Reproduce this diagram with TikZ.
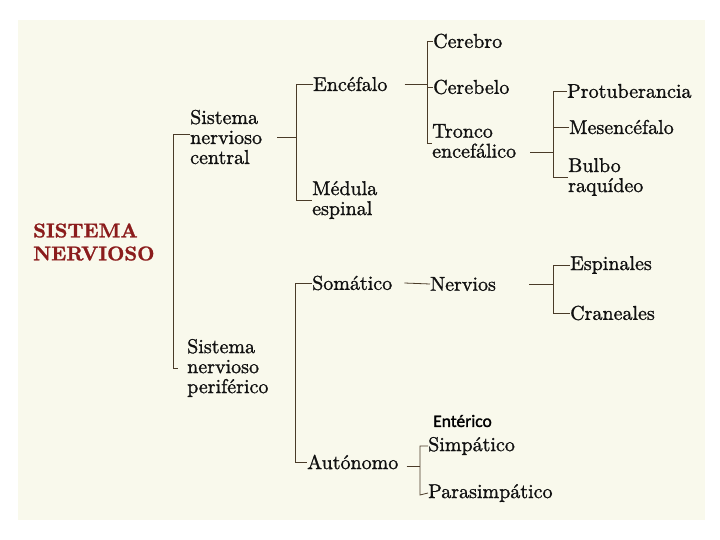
\documentclass[tikz,border=0pt]{standalone}
\usepackage{fontspec}
\setmainfont{lmroman10-regular.otf}[BoldFont=lmroman10-bold.otf,FakeBold=1.2]
\newfontfamily\entfont{Carlito}[FakeBold=1.6]
\definecolor{paper}{HTML}{F9F9EC}
\definecolor{ink}{HTML}{111111}
\definecolor{rule}{HTML}{4A3B28}
\definecolor{titlered}{HTML}{8B1C1C}
\tikzset{
  lbl/.style={anchor=west, inner sep=0pt, align=left, text=ink,
    font=\fontsize{20}{20}\selectfont},
  ttl/.style={anchor=west, inner sep=0pt, align=left, text=titlered,
    font=\fontsize{20}{23}\selectfont\bfseries},
  ent/.style={anchor=west, inner sep=0pt, text=black,
    font=\fontsize{17.5}{20}\selectfont\entfont},
  ln/.style={draw=rule, line width=0.8pt}
}
\begin{document}
\begin{tikzpicture}[x=1pt,y=-1pt]
\useasboundingbox (0,0) rectangle (720,540);
\fill[white] (0,0) rectangle (720,540);
\fill[paper] (18,20) rectangle (705,520);

% nodes
\node[ttl] (sn)  at (33,242) {SISTEMA\\NERVIOSO};
\node[lbl] (snc) at (190,137) {Sistema\\nervioso\\central};
\node[lbl] (snp) at (187,368) {Sistema\\nervioso\\periférico};
\node[lbl] (enc) at (313,84)  {Encéfalo};
\node[lbl] (med) at (312,200) {Médula\\espinal};
\node[lbl] (cer) at (433,41)  {Cerebro};
\node[lbl] (cbl) at (433,87)  {Cerebelo};
\node[lbl] (tro) at (432,141) {Tronco\\encefálico};
\node[lbl] (pro) at (567,91)  {Protuberancia};
\node[lbl] (mes) at (569,127) {Mesencéfalo};
\node[lbl] (bul) at (568,177) {Bulbo\\raquídeo};
\node[lbl] (som) at (312,283) {Somático};
\node[lbl] (aut) at (307,462) {Autónomo};
\node[lbl] (ner) at (430,284) {Nervios};
\node[lbl] (esp) at (570,265) {Espinales};
\node[lbl] (cra) at (570,313) {Craneales};
\node[ent] (ent) at (433,421) {Entérico};
\node[lbl] (sim) at (428,446) {Simpático};
\node[lbl] (par) at (428,493) {Parasimpático};

% junction coordinates
\coordinate (j1) at (173,368);
\coordinate (j2) at (296,200);
\coordinate (j3) at (427,143);
\coordinate (j5) at (553,177);
\coordinate (j6) at (295,462);
\coordinate (j7) at (553,313);
\coordinate (j8) at (420,495);

% main bracket
\draw[ln] ([yshift=3pt]snc.west) -- ++(-17,0) |- (j1) -- ++(5,0);

% central nervous system bracket
\draw[ln] ([xshift=15pt]snc.east) -- (snc.east -| j2);
\draw[ln] (enc.west) -| (j2) -- (med.west);

% encefalo bracket
\draw[ln] ([xshift=17pt]enc.east) -- (enc.east -| j3);
\draw[ln] (cer.west) -| (j3) -- (tro.west |- j3);
\draw[ln] (cbl.west) -- (cbl.west -| j3);

% tronco bracket
\draw[ln] (tro.east) ++(14,11) -- (j5 |- 0,152);
\draw[ln] (pro.west) -| (j5) -- (bul.west);
\draw[ln] (mes.west) -- (mes.west -| j5);

% peripheral bracket
\draw[ln] (som.west) -| (j6) -- (aut.west);
\draw[ln] ([xshift=12pt]som.east) -- (ner.west);

% nervios bracket
\draw[ln] ([xshift=33pt]ner.east) -- (ner.east -| j7);
\draw[ln] (esp.west) -| (j7) -- (cra.west);

% autonomo bracket
\draw[ln] ([xshift=8pt,yshift=-4pt]aut.east) -- ([yshift=-4pt]aut.east -| j8);
\draw[ln] (sim.west) -| (j8) -- (par.west);
\end{tikzpicture}
\end{document}
